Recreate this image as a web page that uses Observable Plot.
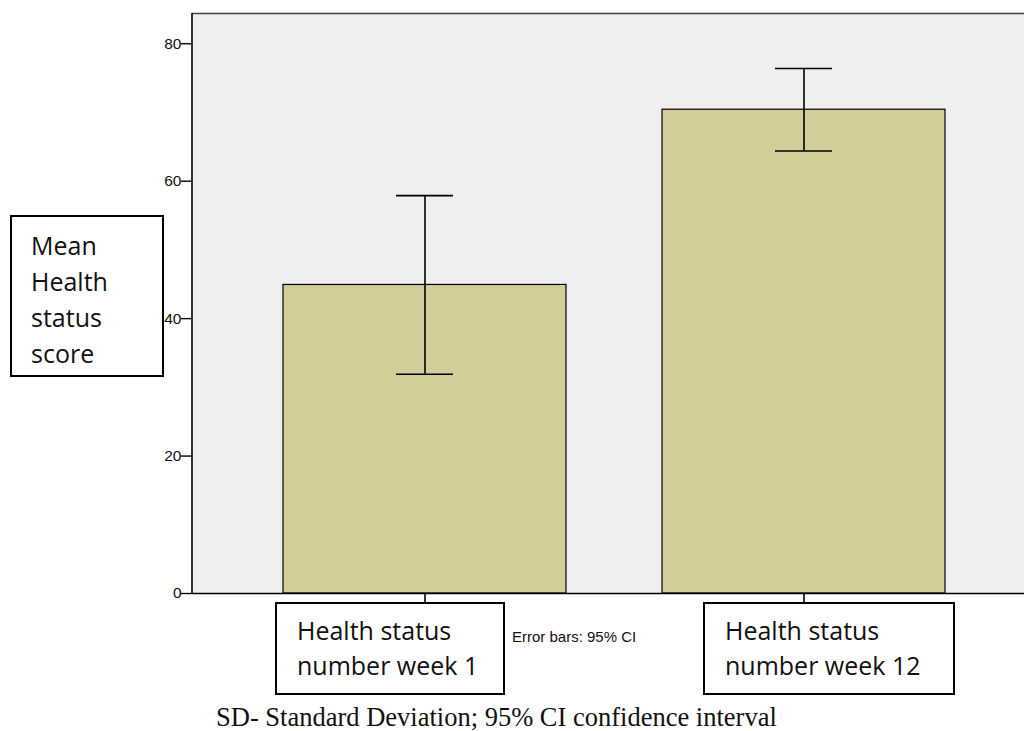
<!DOCTYPE html>
<html>
<head>
<meta charset="utf-8">
<script src="https://cdn.jsdelivr.net/npm/d3@7"></script>
<script src="https://cdn.jsdelivr.net/npm/@observablehq/plot@0.6"></script>
<style>
  html, body { margin: 0; padding: 0; background: #fff; }
  #wrap { position: relative; width: 1024px; height: 731px; overflow: hidden; }
  #wrap svg { position: absolute; left: 0; top: 0; }
  #wrap svg text { font-size: 15.5px; }
  .box { position: absolute; box-sizing: border-box; border: 2px solid #000; background: #fff;
         font-family: "Open Sans", Lato, sans-serif; font-size: 25px; color: #111; white-space: nowrap; }
  .note { position: absolute; font-family: "Liberation Sans", Arial, sans-serif; font-size: 15px; line-height: 15px; color: #111; white-space: nowrap; }
  .caption { position: absolute; font-family: "Liberation Serif", "Times New Roman", serif; font-size: 26.5px; line-height: 24px; color: #111; white-space: nowrap; }
</style>
</head>
<body>
<div id="wrap"></div>
<script>
const categories = ["Health status number week 1", "Health status number week 12"];
const labelLines = [["Health status", "number week 1"], ["Health status", "number week 12"]];
const means = [44.9, 70.4];
const ciLow = [31.9, 64.4];
const ciHigh = [57.9, 76.4];
const yTicks = [0, 20, 40, 60, 80];
const yMax = 84.4;
const yLabelLines = ["Mean", "Health", "status", "score"];
const errorNote = "Error bars: 95% CI";
const captionText = "SD- Standard Deviation; 95% CI confidence interval";

const data = categories.map((c, i) => ({cat: c, mean: means[i], lo: ciLow[i], hi: ciHigh[i]}));

const chart = Plot.plot({
  width: 1024,
  height: 731,
  marginLeft: 192,
  marginTop: 13,
  marginRight: 0,
  marginBottom: 138,
  style: {background: "transparent", fontFamily: "'Liberation Sans', Arial, sans-serif", fontSize: "15.5px", color: "#111"},
  x: {domain: categories, range: [192, 1036], paddingInner: 0.2526, paddingOuter: 0.237, align: 0.5, axis: null},
  y: {domain: [0, yMax], axis: null},
  marks: [
    Plot.frame({fill: "#efefef", stroke: null}),
    Plot.barY(data, {x: "cat", y: "mean", fill: "#d3ce99", stroke: "#000", strokeWidth: 1.2}),
    Plot.ruleX(data, {x: "cat", y1: "lo", y2: "hi", stroke: "#000", strokeWidth: 1.6}),
    Plot.tickY(data, {x: "cat", y: "lo", stroke: "#000", strokeWidth: 1.6, insetLeft: 113, insetRight: 113}),
    Plot.tickY(data, {x: "cat", y: "hi", stroke: "#000", strokeWidth: 1.6, insetLeft: 113, insetRight: 113}),
    Plot.axisY({ticks: yTicks, tickSize: 11, tickPadding: 0, tickFormat: d => d, fontSize: 15.5, label: null, stroke: "#000", strokeWidth: 1.4}),
    Plot.axisX({tickSize: 9, tickFormat: null, text: null, label: null, stroke: "#000", strokeWidth: 1.6}),
    Plot.ruleY([0], {stroke: "#000", strokeWidth: 1.6}),
    Plot.ruleY([yMax], {stroke: "#444", strokeWidth: 1.6})
  ]
});

const wrap = document.getElementById("wrap");
wrap.appendChild(chart);

// left axis line
d3.select(chart).append("line").attr("x1", 192).attr("x2", 192).attr("y1", 13).attr("y2", 593)
  .attr("stroke", "#000").attr("stroke-width", 1.6);

// y label box
const yBox = document.createElement("div");
yBox.className = "box";
Object.assign(yBox.style, {left: "10px", top: "215px", width: "154px", height: "162px", padding: "10px 0 0 19px", lineHeight: "36px"});
yBox.innerHTML = yLabelLines.join("<br>");
wrap.appendChild(yBox);

// category boxes
const boxLeft = [275, 703];
const boxW = [230, 252];
labelLines.forEach((lines, i) => {
  const b = document.createElement("div");
  b.className = "box";
  Object.assign(b.style, {left: boxLeft[i] + "px", top: "602px", width: boxW[i] + "px", height: "93px", padding: "9px 0 0 20px", lineHeight: "35px"});
  b.innerHTML = lines.join("<br>");
  wrap.appendChild(b);
});

const note = document.createElement("div");
note.className = "note";
Object.assign(note.style, {left: "512px", top: "629px"});
note.textContent = errorNote;
wrap.appendChild(note);

const cap = document.createElement("div");
cap.className = "caption";
Object.assign(cap.style, {left: "216px", top: "705px"});
cap.textContent = captionText;
wrap.appendChild(cap);
</script>
</body>
</html>
